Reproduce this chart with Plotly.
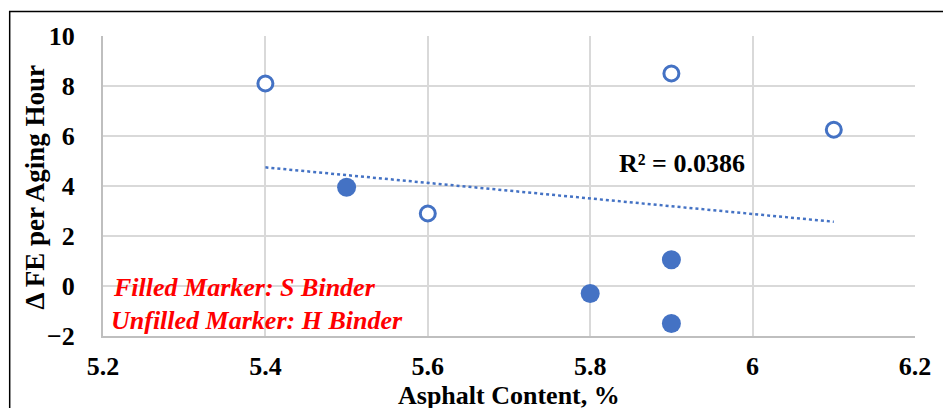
import numpy as np
import plotly.graph_objects as go

# Data
h_x = [5.4, 5.9, 6.1, 5.6]
h_y = [8.1, 8.5, 6.25, 2.9]
s_x = [5.5, 5.8, 5.9, 5.9]
s_y = [3.95, -0.3, 1.05, -1.5]
x_ticks = [5.2, 5.4, 5.6, 5.8, 6.0, 6.2]
x_tick_labels = ["5.2", "5.4", "5.6", "5.8", "6", "6.2"]
y_ticks = [-2, 0, 2, 4, 6, 8, 10]
r2_label = "R² = 0.0386"

BLUE = "#4472C4"
FONT = "Liberation Serif"
FS = 26

PL, PR, PT, PB = 103, 921, 36, 336  # plot area in window pixels
W, H = 943, 408


def px(x):
    return (x - PL) / (PR - PL)


def py(y):
    return (PB - y) / (PB - PT)


all_x = np.array(h_x + s_x)
all_y = np.array(h_y + s_y)
slope, intercept = np.polyfit(all_x, all_y, 1)
tx = np.array([all_x.min(), all_x.max()])
ty = slope * tx + intercept

fig = go.Figure()
fig.add_trace(go.Scatter(x=tx, y=ty, mode="lines",
                         line=dict(color=BLUE, width=2.5, dash="dot"),
                         showlegend=False, hoverinfo="skip"))
fig.add_trace(go.Scatter(x=h_x, y=h_y, mode="markers",
                         marker=dict(size=15, color="white", symbol="circle",
                                     line=dict(color=BLUE, width=3)),
                         showlegend=False))
fig.add_trace(go.Scatter(x=s_x, y=s_y, mode="markers",
                         marker=dict(size=19, color=BLUE, symbol="circle",
                                     line=dict(color=BLUE, width=0)),
                         showlegend=False))

fig.update_layout(
    width=W, height=H,
    margin=dict(l=PL, r=W - PR, t=PT, b=H - PB),
    paper_bgcolor="white", plot_bgcolor="white",
    font=dict(family=FONT, color="black", size=FS),
    xaxis=dict(range=[5.2, 6.2], tickvals=x_ticks, ticktext=x_tick_labels,
               showgrid=True, gridcolor="#D9D9D9", gridwidth=1.5,
               showline=True, linecolor="#BFBFBF", linewidth=2,
               zeroline=False, ticks="", ticklabelstandoff=6,
               tickfont=dict(family=FONT, size=FS, color="black", weight="bold")),
    yaxis=dict(range=[-2, 10], tickvals=y_ticks,
               showgrid=True, gridcolor="#D9D9D9", gridwidth=1.5,
               showline=True, linecolor="#BFBFBF", linewidth=2,
               zeroline=False, ticks="", ticklabelstandoff=21,
               tickfont=dict(family=FONT, size=FS, color="black", weight="bold")),
    annotations=[
        dict(x=px(512), y=py(395), xref="paper", yref="paper",
             text="<b>Asphalt Content, %</b>", showarrow=False,
             xanchor="center", yanchor="middle",
             font=dict(family=FONT, size=FS, color="black")),
        dict(x=px(35), y=py(187), xref="paper", yref="paper",
             text="<b>Δ FE per Aging Hour</b>", showarrow=False, textangle=-90,
             xanchor="center", yanchor="middle",
             font=dict(family=FONT, size=FS + 1, color="black")),
        dict(x=px(686), y=py(163), xref="paper", yref="paper",
             text="<b>" + r2_label + "</b>", showarrow=False,
             xanchor="center", yanchor="middle",
             font=dict(family=FONT, size=FS, color="black")),
        dict(x=px(111), y=py(287), xref="paper", yref="paper",
             xanchor="left", yanchor="middle",
             text="<b><i>Filled Marker: S Binder</i></b>",
             showarrow=False, font=dict(family=FONT, size=FS, color="#FF0000")),
        dict(x=px(109), y=py(320), xref="paper", yref="paper",
             xanchor="left", yanchor="middle",
             text="<b><i>Unfilled Marker: H Binder</i></b>",
             showarrow=False, font=dict(family=FONT, size=FS, color="#FF0000")),
    ],
    shapes=[dict(type="rect", xref="paper", yref="paper",
                 x0=px(9), x1=px(960),
                 y0=py(440), y1=py(11.5),
                 line=dict(color="black", width=1.5), fillcolor="rgba(0,0,0,0)",
                 layer="below")],
)

fig.write_html("out.html", config={"displayModeBar": False},
               post_script="document.body.style.margin='0';"
                           "document.body.style.overflow='hidden';"
                           "document.documentElement.style.overflow='hidden';")
